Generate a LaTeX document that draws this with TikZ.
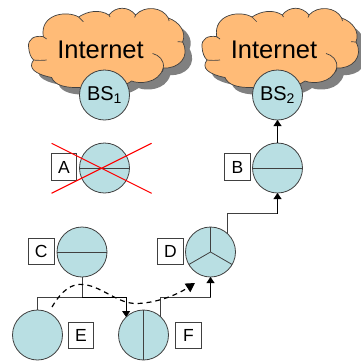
\documentclass[tikz,border=0pt]{standalone}
\usepackage{fontspec}
\setmainfont{Liberation Sans}
\usetikzlibrary{arrows.meta,calc}
\definecolor{cellfill}{HTML}{B9DFE3}
\definecolor{cloudfill}{HTML}{FFBB77}
\definecolor{edge}{HTML}{404040}
\tikzset{
  cell/.style={circle,draw=edge,fill=cellfill,line width=0.8pt,minimum size=50pt,inner sep=0pt,outer sep=0pt,font=\fontsize{20}{22}\selectfont},
  tag/.style={draw=edge,fill=white,line width=0.7pt,minimum width=25.5pt,minimum height=26.5pt,inner sep=0pt,outer sep=0pt,font=\fontsize{17.5}{20}\selectfont},
  div/.style={draw=edge,line width=0.8pt},
  link/.style={draw=edge,line width=0.8pt},
  tip/.style={-{Triangle[length=6pt,width=8pt]},black},
  crossline/.style={draw=red,line width=1.1pt},
  net/.style={font=\fontsize{25.5}{28}\selectfont,inner sep=0pt},
}
% cloud outline, origin at the left of the cloud-2 zoom (1 unit = 1 px)
\newcommand{\cloudpath}{
  (36.7,36.7) .. controls (28,35) and (21,39) .. (22,47)
  .. controls (22.5,53) and (24,57) .. (27,60)
  .. controls (21,68) and (28,74) .. (45,77.5)
  .. controls (48,85) and (58,88) .. (73,87.5)
  .. controls (90,92) and (112,90) .. (125,81)
  .. controls (132,84) and (152,84) .. (156.7,68)
  .. controls (172,69) and (184,57) .. (176,42)
  .. controls (180,32) and (173,22) .. (161.7,18)
  .. controls (156,7) and (138,5) .. (129,15)
  .. controls (122,6) and (109,6) .. (102.3,15)
  .. controls (93,9) and (81,11) .. (72,17)
  .. controls (60,10) and (33,14) .. (36.7,36.7) -- cycle
}
\newcommand{\cloudinner}{
  (36.7,36.7) .. controls (38,37) and (39,38) .. (40,39)
  (40,60) .. controls (36,60.5) and (31,60.5) .. (27,60)
  (146,53.5) .. controls (152,55) and (158,60) .. (156.7,68)
  (156.7,68) .. controls (156.5,70) and (156,71) .. (155.5,72)
  (72,17) -- (76.7,21.7)
  (102.3,15) -- (103.5,17)
  (129,15) -- (128,17.5)
  (161.7,18) -- (162.5,21)
  (176,42) -- (171,41.7)
}
\begin{document}
\begin{tikzpicture}[x=1pt,y=-1pt]
\useasboundingbox (0,0) rectangle (361,360);
% clouds
\foreach \dx in {180,6.6}{
  \begin{scope}[xshift=\dx pt]
    \fill[black!50,xshift=7pt,yshift=-7pt] \cloudpath;
    \filldraw[fill=cloudfill,draw=edge,line width=0.7pt] \cloudpath;
    \draw[edge,line width=0.7pt] \cloudinner;
  \end{scope}
}
\node[net] (net1) at (100.5,50) {Internet};
\node[net] (net2) at (274,50) {Internet};
% cells
\node[cell] (BS1) at (104.5,95) {BS\textsubscript{1}};
\node[cell] (BS2) at (277.5,95) {BS\textsubscript{2}};
\node[cell] (A) at (104.5,168) {};
\node[cell] (B) at (277.5,168) {};
\node[cell] (C) at (82,252) {};
\node[cell] (D) at (210.5,252) {};
\node[cell] (E) at (37.5,335) {};
\node[cell] (F) at (143.5,335) {};
% sector dividers
\draw[div] (A.west) -- (A.east);
\draw[div] (B.west) -- (B.east);
\draw[div] (C.west) -- (C.east);
\draw[div] (F.north) -- (F.south);
\draw[div] (D.center) -- (D.north);
\draw[div] (D.center) -- (D.210);
\draw[div] (D.center) -- (D.330);
% tags
\node[tag] (tagA) at (64,167) {A};
\node[tag] (tagB) at (237.5,167) {B};
\node[tag] (tagC) at (41.3,251.5) {C};
\node[tag] (tagD) at (170.5,251.5) {D};
\node[tag] (tagE) at (81,335.5) {E};
\node[tag] (tagF) at (188.5,335.5) {F};
% connectors
\coordinate (bus) at (82,297);
\coordinate (kneeD) at (210.5,297);
\coordinate (kneeB) at (228.7,213.5);
\draw[link] (C.south) -- (bus);
\draw[link] (bus) -| (E.north);
\draw[link,tip] (bus) -| (F.134);
\draw[link] (F.46) |- (kneeD);
\draw[link,tip] (kneeD) -- (D.south);
\draw[link] (D.47) |- (B.south |- kneeB);
\draw[link,tip] (B.south |- kneeB) -- (B.south);
\draw[link,tip] (B.north) -- (BS2.south);
% handover path
\coordinate (h0) at (52,307);
\coordinate (h1) at (195,283);
\draw[black,line width=1.2pt,dash pattern=on 5pt off 4pt,-{Triangle[length=9pt,width=10pt]}] (h0) .. controls (62,290) and (72,283) .. (84,284.5) .. controls (103,287) and (118,304) .. (137,303.5) .. controls (155,303) and (175,296) .. (h1);
% failed cell cross
\coordinate (x1) at (51.6,143.3);
\coordinate (x2) at (151.6,193.3);
\coordinate (x3) at (151.6,143.3);
\coordinate (x4) at (51.6,193.3);
\draw[crossline] (x1) -- (x2);
\draw[crossline] (x3) -- (x4);
\end{tikzpicture}
\end{document}
